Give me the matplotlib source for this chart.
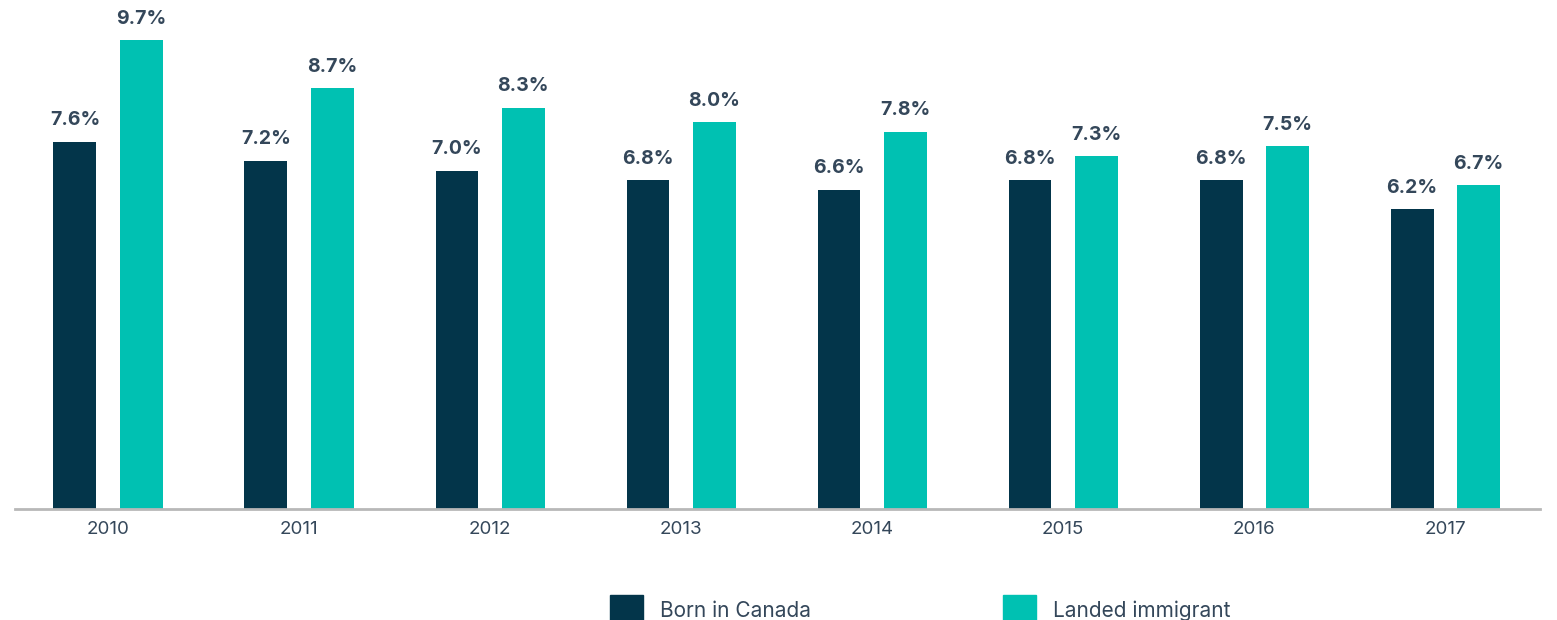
import numpy as np
import matplotlib
matplotlib.use("Agg")
import matplotlib.pyplot as plt
from matplotlib.patches import Patch

years = ["2010", "2011", "2012", "2013", "2014", "2015", "2016", "2017"]
born_canada = [7.6, 7.2, 7.0, 6.8, 6.6, 6.8, 6.8, 6.2]
landed_immigrant = [9.7, 8.7, 8.3, 8.0, 7.8, 7.3, 7.5, 6.7]
series_names = ["Born in Canada", "Landed immigrant"]

dark = "#03354a"
teal = "#00c1b2"
text_col = "#34475a"

plt.rcParams['font.family'] = ['Inter', 'DejaVu Sans']

fig = plt.figure(figsize=(15.57, 6.2), dpi=100)
ax = fig.add_axes([15/1557, 111/620, 1525/1557, 509/620])

x = np.arange(len(years))
w = 0.225
off = 0.173
b1 = ax.bar(x - off, born_canada, w, color=dark, label=series_names[0])
b2 = ax.bar(x + off, landed_immigrant, w, color=teal, label=series_names[1])

for bars, vals in ((b1, born_canada), (b2, landed_immigrant)):
    for r, v in zip(bars, vals):
        ax.annotate(f"{v:.1f}%", (r.get_x() + r.get_width()/2, v),
                    xytext=(0, 9), textcoords="offset points",
                    ha="center", va="bottom", fontsize=14,
                    fontweight="bold", color=text_col)

ax.set_xlim(-0.487, 7.497)
ax.set_ylim(0, 10.53)
ax.set_xticks(x)
ax.set_xticklabels(years, fontsize=13.5, color=text_col)
ax.tick_params(axis="x", length=0, pad=9)
ax.set_yticks([])
for s in ["top", "right", "left"]:
    ax.spines[s].set_visible(False)
ax.spines["bottom"].set_color("#b8b8b8")
ax.spines["bottom"].set_linewidth(2)

# legend sits at the bottom edge, partly clipped like the original
handles = [Patch(color=dark), Patch(color=teal)]
fig.legend(handles, series_names, loc="upper left",
           bbox_to_anchor=(610/1557, 1 - 595/620), ncol=2, frameon=False,
           fontsize=15, labelcolor=text_col, borderpad=0, borderaxespad=0,
           handlelength=1.58, handleheight=1.95, handletextpad=0.82,
           columnspacing=9.2)

fig.savefig("out.png", dpi=100)
